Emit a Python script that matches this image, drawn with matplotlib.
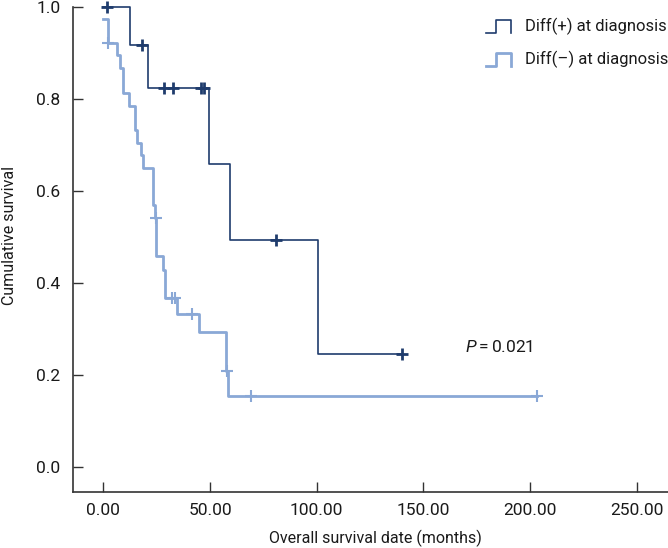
import numpy as np
import matplotlib
matplotlib.use("Agg")
import matplotlib.pyplot as plt
from matplotlib.legend_handler import HandlerBase
from matplotlib.lines import Line2D

# Kaplan-Meier steps (months, cumulative survival)
pos_times = [0, 12.5, 20.8, 49.7, 59.4, 100.8, 139.9]
pos_surv = [1.0, 0.917, 0.825, 0.660, 0.495, 0.247, 0.247]
pos_censored = [1.6, 18.3, 28.6, 32.8, 45.7, 47.2, 80.8, 139.9]

neg_times = [0, 2.0, 6.3, 7.8, 9.4, 12.2, 14.9, 16.0, 17.5, 18.8, 23.3, 24.0,
             24.9, 28.1, 28.9, 34.4, 45.0, 57.5, 58.6, 203.4]
neg_surv = [0.975, 0.922, 0.897, 0.868, 0.813, 0.786, 0.733, 0.705, 0.679,
            0.650, 0.570, 0.541, 0.459, 0.429, 0.367, 0.334, 0.293, 0.210,
            0.155, 0.155]
neg_censored = [2.2, 24.6, 32.0, 33.6, 41.4, 58.0, 69.4, 203.4]

labels = ["Diff(+) at diagnosis", "Diff(\u2013) at diagnosis"]
x_ticks = [0, 50, 100, 150, 200, 250]
y_ticks = [0.0, 0.2, 0.4, 0.6, 0.8, 1.0]
p_text = r"$P = 0.021$"

DARK = "#1f3c6d"
LIGHT = "#8aa8d6"
AXC = "#333333"
TXT = "#1a1a1a"

plt.rcParams["font.family"] = ["Roboto", "DejaVu Sans"]
plt.rcParams["mathtext.fontset"] = "custom"
plt.rcParams["mathtext.rm"] = "Roboto"
plt.rcParams["mathtext.it"] = "Roboto:italic"


def level_at(times, surv, t):
    i = np.searchsorted(times, t, side="right") - 1
    return np.asarray(surv)[i]


class StepHandler(HandlerBase):
    # little "_|‾|" glyph like the SPSS survival legend
    def create_artists(self, legend, orig_handle, xdescent, ydescent,
                       width, height, fontsize, trans):
        xs = np.array([0.0, 0.4, 0.4, 1.0, 1.0]) * width - xdescent
        ys = np.array([0.0, 0.0, 1.0, 1.0, 0.0]) * height * 1.1 - ydescent - 0.1 * height
        line = Line2D(xs, ys, color=orig_handle.get_color(),
                      linewidth=orig_handle.get_linewidth(), transform=trans)
        return [line]


fig = plt.figure(figsize=(6.68, 5.48), dpi=100)
ax = fig.add_axes([0.109, 0.1022, 0.8912, 0.8845])

h_pos, = ax.step(pos_times, pos_surv, where="post", color=DARK, lw=1.2,
                 clip_on=False, zorder=3)
h_neg, = ax.step(neg_times, neg_surv, where="post", color=LIGHT, lw=2.0,
                 clip_on=False, zorder=2)

ax.plot(pos_censored, level_at(pos_times, pos_surv, pos_censored), "+",
        color=DARK, ms=8, mew=2.0, clip_on=False, zorder=4)
ax.plot(neg_censored, level_at(neg_times, neg_surv, neg_censored), "+",
        color=LIGHT, ms=9, mew=1.5, clip_on=False, zorder=3)

ax.set_xlim(-14.3, 264.7)
ax.set_ylim(-0.054, 1.0)
ax.set_xticks(x_ticks)
ax.set_xticklabels([f"{v:.2f}" for v in x_ticks])
ax.set_yticks(y_ticks)
ax.set_yticklabels([f"{v:.1f}" for v in y_ticks])

for side in ["top", "right"]:
    ax.spines[side].set_visible(False)
for side in ["left", "bottom"]:
    ax.spines[side].set_color(AXC)
    ax.spines[side].set_linewidth(1.2)

ax.tick_params(direction="in", length=7, width=1.0, color=AXC,
               labelsize=12.5, labelcolor=TXT)
ax.tick_params(axis="x", pad=8)
ax.tick_params(axis="y", pad=9)

ax.set_xlabel("Overall survival date (months)", fontsize=11.5, color=TXT)
ax.set_ylabel("Cumulative survival", fontsize=11.5, color=TXT)
ax.xaxis.set_label_coords(0.509, -0.077)
ax.yaxis.set_label_coords(-0.093, 0.53)

ax.text(169.5, 0.262, p_text, fontsize=12.5, color=TXT, va="center")

leg = ax.legend([h_pos, h_neg], labels, handler_map={h_pos: StepHandler(), h_neg: StepHandler()},
                loc="upper right", bbox_to_anchor=(1.0, 0.978), frameon=False,
                fontsize=12, handlelength=1.5, handletextpad=0.85,
                labelspacing=0.95, borderaxespad=0.0, borderpad=0.0)
for t in leg.get_texts():
    t.set_color(TXT)

fig.savefig("out.png", dpi=100)
